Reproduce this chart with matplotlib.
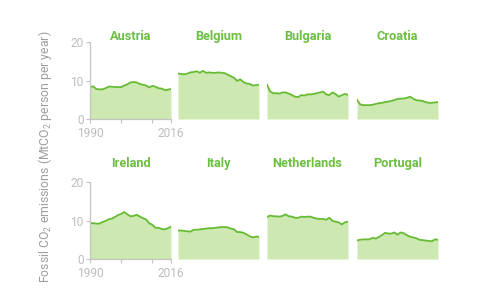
import matplotlib.pyplot as plt

plt.rcParams['font.family'] = ['Roboto', 'DejaVu Sans']
plt.rcParams['mathtext.fontset'] = 'custom'
plt.rcParams['mathtext.rm'] = 'Roboto'

years = list(range(1990, 2017))

austria = [8.3, 8.5, 7.8, 7.7, 7.7, 8.0, 8.4, 8.4, 8.3, 8.3, 8.3, 8.7, 9.0, 9.5, 9.6, 9.5, 9.1, 8.9, 8.7,
           8.2, 8.6, 8.4, 8.0, 7.9, 7.5, 7.6, 7.8]
belgium = [11.8, 11.7, 11.6, 11.8, 12.1, 12.2, 12.4, 12.0, 12.5, 12.0, 12.1, 12.0, 12.0, 12.1, 12.0, 11.9,
           11.5, 11.1, 10.7, 9.9, 10.3, 9.6, 9.2, 9.1, 8.7, 8.8, 8.9]
bulgaria = [8.9, 7.2, 6.7, 6.7, 6.6, 6.9, 6.9, 6.6, 6.2, 5.8, 5.7, 6.2, 6.1, 6.4, 6.4, 6.5, 6.7, 6.9, 7.1,
            6.4, 6.2, 6.9, 6.5, 5.8, 6.2, 6.5, 6.3]
croatia = [5.0, 3.8, 3.6, 3.6, 3.6, 3.7, 3.9, 4.1, 4.2, 4.4, 4.5, 4.7, 4.9, 5.2, 5.3, 5.3, 5.5, 5.8, 5.3,
           4.9, 4.8, 4.7, 4.4, 4.2, 4.2, 4.3, 4.4]
ireland = [9.3, 9.3, 9.2, 9.2, 9.6, 9.9, 10.3, 10.5, 10.9, 11.4, 11.7, 12.2, 11.6, 11.1, 11.2, 11.5, 11.0,
           10.6, 10.3, 9.3, 8.9, 8.1, 8.1, 7.8, 7.7, 8.0, 8.4]
italy = [7.4, 7.4, 7.3, 7.2, 7.1, 7.6, 7.6, 7.7, 7.8, 7.9, 8.0, 8.0, 8.1, 8.2, 8.3, 8.3, 8.2, 7.9, 7.7,
         7.0, 7.0, 6.8, 6.4, 5.9, 5.6, 5.8, 5.8]
netherlands = [10.9, 11.3, 11.1, 11.1, 11.0, 11.2, 11.6, 11.1, 11.0, 10.7, 10.7, 11.0, 10.9, 11.0, 11.0,
               10.7, 10.5, 10.4, 10.4, 10.2, 10.7, 9.9, 9.7, 9.5, 9.0, 9.5, 9.7]
portugal = [4.8, 5.0, 5.1, 5.1, 5.1, 5.5, 5.3, 5.7, 6.2, 6.8, 6.6, 6.6, 6.9, 6.3, 6.9, 6.7, 6.2, 5.8, 5.6,
            5.4, 5.0, 4.9, 4.8, 4.7, 4.6, 5.1, 5.0]

countries = ['Austria', 'Belgium', 'Bulgaria', 'Croatia', 'Ireland', 'Italy', 'Netherlands', 'Portugal']
series = [austria, belgium, bulgaria, croatia, ireland, italy, netherlands, portugal]

line_col = '#66bb33'
fill_col = '#cde8b0'
grey = '#c4c4c4'

W, H = 482, 300
fig = plt.figure(figsize=(W / 100, H / 100), dpi=100)

lefts = [90, 178, 267, 357]
rows = [(42, 119, 40), (182, 259, 167)]   # top px, bottom px, title baseline px
pw = 81

for i, (name, vals) in enumerate(zip(countries, series)):
    r, c = divmod(i, 4)
    top, bot, tb = rows[r]
    x0 = lefts[c]
    ax = fig.add_axes([x0 / W, 1 - bot / H, pw / W, (bot - top) / H])
    ax.fill_between(years, 0, vals, color=fill_col, lw=0)
    ax.plot(years, vals, color=line_col, lw=1.3)
    ax.set_xlim(1990, 2016)
    ax.set_ylim(0, 20)
    ax.patch.set_alpha(0)
    for s in ['top', 'right']:
        ax.spines[s].set_visible(False)
    fig.text((x0 + pw / 2) / W, 1 - tb / H, name, ha='center', va='baseline',
             fontsize=9.2, fontweight='bold', color='#6cbf40')
    if c == 0:
        for s in ['left', 'bottom']:
            ax.spines[s].set_color(grey)
            ax.spines[s].set_linewidth(0.9)
        ax.set_yticks([0, 10, 20])
        ax.set_xticks([1990, 2000, 2010, 2016])
        ax.set_xticklabels(['1990', '', '', '2016'])
        ax.tick_params(colors=grey, labelcolor='#bdbdbd', labelsize=8.6, length=3, width=0.8, pad=1.5)
        ax.tick_params(axis='x', pad=3)
    else:
        ax.axis('off')

fig.text(45 / W, 1 - 157 / H, 'Fossil CO$_2$ emissions (MtCO$_2$ person per year)', rotation=90,
         ha='center', va='center', fontsize=8.8, color='#9e9e9e')

fig.savefig('out.png', dpi=100)
